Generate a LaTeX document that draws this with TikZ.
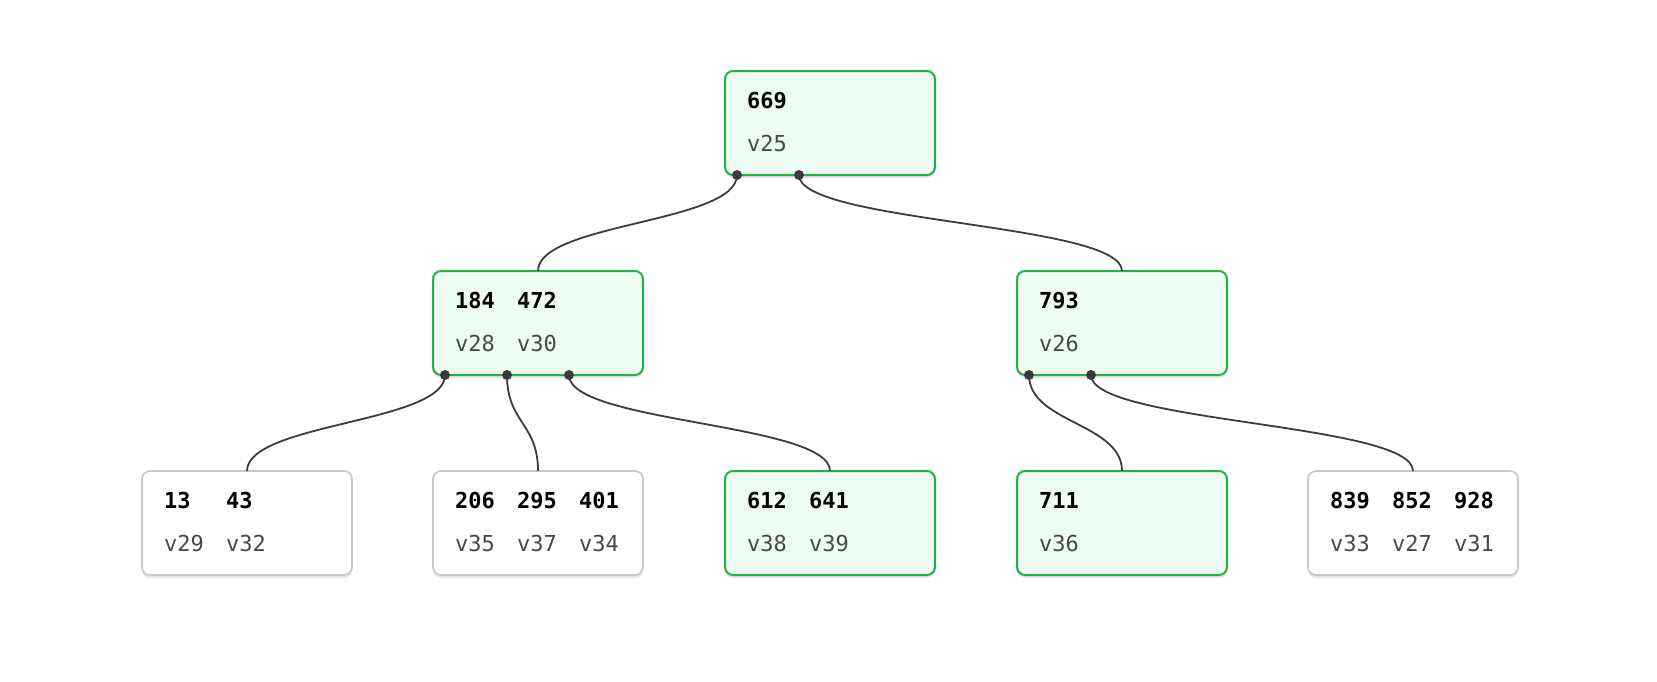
\documentclass[tikz,border=0pt]{standalone}
\usepackage{fontspec}
\setmonofont{DejaVu Sans Mono}
\usetikzlibrary{calc,shadows}
\definecolor{gborder}{RGB}{34,178,72}
\definecolor{gfill}{RGB}{237,253,242}
\definecolor{wborder}{RGB}{200,200,200}
\definecolor{edgec}{RGB}{60,60,60}
\definecolor{valc}{RGB}{72,72,72}
\tikzset{
  boxbase/.style={rectangle, rounded corners=8pt, minimum width=210pt, minimum height=104pt, inner sep=0pt, outer sep=0pt,
    drop shadow={shadow xshift=0pt, shadow yshift=-3pt, opacity=0.10, fill=black}},
  greenbox/.style={boxbase, draw=gborder, fill=gfill, line width=2pt},
  whitebox/.style={boxbase, draw=wborder, fill=white, line width=1.6pt},
  keytext/.style={inner sep=0pt, font=\ttfamily\bfseries\fontsize{22}{26}\selectfont, text=black},
  valtext/.style={inner sep=0pt, font=\ttfamily\fontsize{22}{26}\selectfont, text=valc},
  link/.style={draw=edgec, line width=1.8pt},
  dot/.style={fill=edgec, draw=none}
}
\newcommand{\treebox}[5]{%
  \node[#4, anchor=north west] (#1) at (#2,#3) {};
  \foreach \k/\v [count=\i from 0] in {#5} {
    \node[keytext, anchor=base west] (#1-k\i) at ($(#1.north west)+(22+62*\i,37)$) {\k};
    \node[valtext, anchor=base west] (#1-v\i) at ($(#1.north west)+(22+62*\i,80)$) {\v};
  }%
}
\newcommand{\ptrs}[2]{%
  \foreach \i in {0,...,#2} {
    \coordinate (#1-p\i) at ($(#1.south west)+(12+62*\i,0)$);
  }%
}
\newcommand{\treelink}[2]{%
  \draw[link] (#1) .. controls ($(#1)+(0,48)$) and ($(#2.north)+(0,-48)$) .. (#2.north);
}
\begin{document}
\begin{tikzpicture}[x=1pt,y=-1pt]
\useasboundingbox (0,0) rectangle (1657,681);
\treebox{r}{725}{71}{greenbox}{669/v25}
\treebox{a}{433}{271}{greenbox}{184/v28,472/v30}
\treebox{b}{1017}{271}{greenbox}{793/v26}
\treebox{c1}{142}{471}{whitebox}{13/v29,43/v32}
\treebox{c2}{433}{471}{whitebox}{206/v35,295/v37,401/v34}
\treebox{c3}{725}{471}{greenbox}{612/v38,641/v39}
\treebox{c4}{1017}{471}{greenbox}{711/v36}
\treebox{c5}{1308}{471}{whitebox}{839/v33,852/v27,928/v31}
\ptrs{r}{1}
\ptrs{a}{2}
\ptrs{b}{1}
\treelink{r-p0}{a}
\treelink{r-p1}{b}
\treelink{a-p0}{c1}
\treelink{a-p1}{c2}
\treelink{a-p2}{c3}
\treelink{b-p0}{c4}
\treelink{b-p1}{c5}
\foreach \n in {r-p0,r-p1,a-p0,a-p1,a-p2,b-p0,b-p1} {
  \fill[dot] (\n) circle (5pt);
}
\end{tikzpicture}
\end{document}
